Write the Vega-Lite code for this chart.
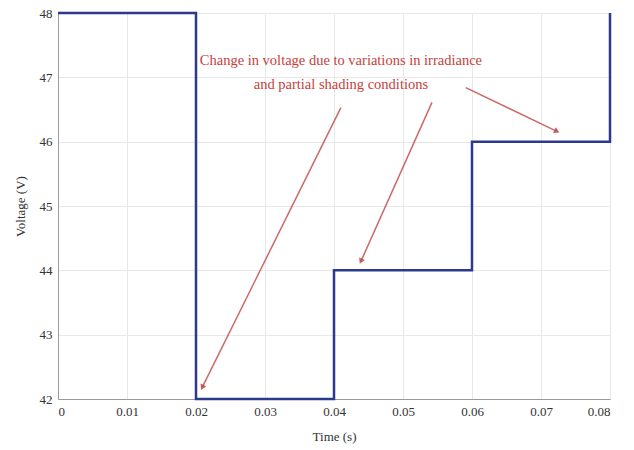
{
  "$schema": "https://vega.github.io/schema/vega-lite/v6.json",
  "width": 552,
  "height": 386,
  "autosize": "none",
  "padding": {"left": 58, "top": 13, "right": 24, "bottom": 51},
  "background": "white",
  "config": {
    "view": {"stroke": "#9a9a9a", "strokeWidth": 1},
    "axis": {
      "labelFont": "Liberation Serif",
      "titleFont": "Liberation Serif",
      "labelFontSize": 13,
      "titleFontSize": 13,
      "labelColor": "#333333",
      "titleColor": "#333333",
      "titleFontWeight": "normal",
      "gridColor": "#e8e8e8",
      "domainColor": "#9a9a9a",
      "ticks": false
    }
  },
  "datasets": {
    "v": [
      {"i": 0, "t": 0, "volt": 48},
      {"i": 1, "t": 0.02, "volt": 48},
      {"i": 2, "t": 0.02, "volt": 42},
      {"i": 3, "t": 0.04, "volt": 42},
      {"i": 4, "t": 0.04, "volt": 44},
      {"i": 5, "t": 0.06, "volt": 44},
      {"i": 6, "t": 0.06, "volt": 46},
      {"i": 7, "t": 0.08, "volt": 46},
      {"i": 8, "t": 0.08, "volt": 48}
    ],
    "arrows": [
      {"id": "a", "t": 0.0410, "volt": 46.53, "t2": 0.0209, "volt2": 42.18},
      {"id": "b", "t": 0.0542, "volt": 46.61, "t2": 0.0439, "volt2": 44.14},
      {"id": "c", "t": 0.0591, "volt": 46.84, "t2": 0.0723, "volt2": 46.16}
    ],
    "note": [
      {"t": 0.0410, "volt": 47.25, "label": "Change in voltage due to variations in irradiance\nand partial shading conditions"}
    ]
  },
  "layer": [
    {
      "data": {"name": "v"},
      "mark": {"type": "line", "color": "#2b3a8c", "strokeWidth": 2.5, "clip": false},
      "encoding": {
        "x": {"field": "t", "type": "quantitative", "scale": {"domain": [0, 0.08], "nice": false},
          "axis": {"title": "Time (s)", "values": [0, 0.01, 0.02, 0.03, 0.04, 0.05, 0.06, 0.07, 0.08], "labelExpr": "datum.value == 0 ? '0' : format(datum.value, '.2f')", "labelPadding": 6, "titlePadding": 12}},
        "y": {"field": "volt", "type": "quantitative", "scale": {"domain": [42, 48], "nice": false, "zero": false},
          "axis": {"title": "Voltage (V)", "values": [42, 43, 44, 45, 46, 47, 48], "format": "d", "labelPadding": 6, "titlePadding": 12}},
        "order": {"field": "i", "type": "quantitative"}
      }
    },
    {
      "data": {"name": "arrows"},
      "mark": {"type": "rule", "color": "#c0504d", "strokeWidth": 1.5, "opacity": 0.85},
      "encoding": {
        "x": {"field": "t", "type": "quantitative"},
        "y": {"field": "volt", "type": "quantitative"},
        "x2": {"field": "t2"},
        "y2": {"field": "volt2"}
      }
    },
    {
      "data": {"name": "arrows"},
      "transform": [{"filter": "datum.id == 'a'"}],
      "mark": {"type": "point", "shape": "triangle-up", "filled": true, "color": "#c0504d", "size": 40, "angle": 206, "opacity": 0.9},
      "encoding": {
        "x": {"field": "t2", "type": "quantitative"},
        "y": {"field": "volt2", "type": "quantitative"}
      }
    },
    {
      "data": {"name": "arrows"},
      "transform": [{"filter": "datum.id == 'b'"}],
      "mark": {"type": "point", "shape": "triangle-up", "filled": true, "color": "#c0504d", "size": 40, "angle": 204, "opacity": 0.9},
      "encoding": {
        "x": {"field": "t2", "type": "quantitative"},
        "y": {"field": "volt2", "type": "quantitative"}
      }
    },
    {
      "data": {"name": "arrows"},
      "transform": [{"filter": "datum.id == 'c'"}],
      "mark": {"type": "point", "shape": "triangle-up", "filled": true, "color": "#c0504d", "size": 40, "angle": 116, "opacity": 0.9},
      "encoding": {
        "x": {"field": "t2", "type": "quantitative"},
        "y": {"field": "volt2", "type": "quantitative"}
      }
    },
    {
      "data": {"name": "note"},
      "mark": {"type": "text", "font": "Liberation Serif", "fontSize": 14.5, "color": "#c8403c", "align": "center", "baseline": "middle", "lineBreak": "\n", "lineHeight": 24},
      "encoding": {
        "x": {"field": "t", "type": "quantitative"},
        "y": {"field": "volt", "type": "quantitative"},
        "text": {"field": "label"}
      }
    }
  ]
}
